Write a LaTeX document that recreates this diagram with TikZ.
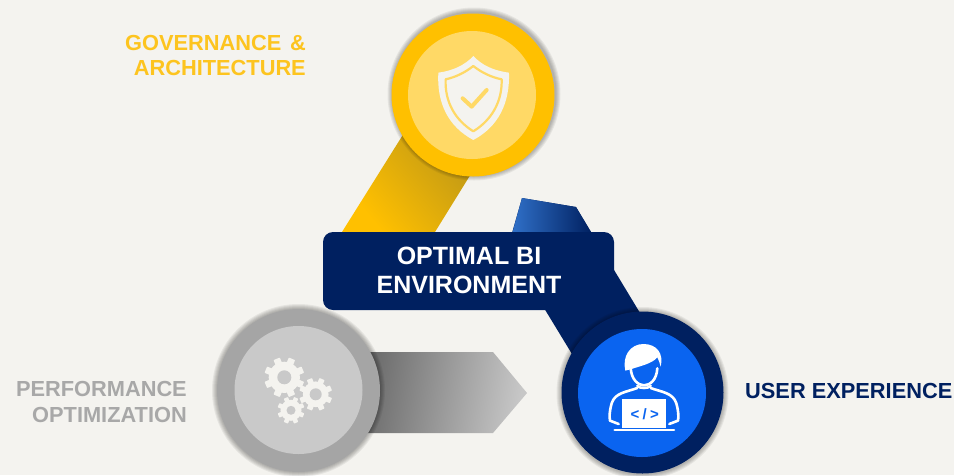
\documentclass[tikz,border=0pt]{standalone}
\usepackage{fontspec}
\setmainfont{Liberation Sans}
\definecolor{bgc}{HTML}{F4F3EF}
\definecolor{navy}{HTML}{002060}
\definecolor{gold}{HTML}{FFC000}
\definecolor{goldtext}{HTML}{FDC41F}
\definecolor{goldlight}{HTML}{FFD966}
\definecolor{golddark}{HTML}{A98A1E}
\definecolor{graylabel}{HTML}{A8A8A8}
\definecolor{grayring}{HTML}{A5A5A5}
\definecolor{grayinner}{HTML}{C9C9C9}
\definecolor{brightblue}{HTML}{0A64F0}
\definecolor{bandblue}{HTML}{3070C8}
\tikzset{
  sidelabel/.style={font=\bfseries\fontsize{21.8}{25.5}\selectfont, inner sep=0pt},
  centrelabel/.style={font=\bfseries\fontsize{25}{29}\selectfont, text=white, align=center, inner sep=0pt},
  gearfill/.style={fill=bgc},
  gearhole/.style={fill=grayinner},
  iconline/.style={draw=white, line width=2.6pt, line cap=round, line join=round}
}
\newcommand\softshadow[3]{%
  \foreach \d in {1,...,5}{\fill[black, opacity=0.06] (#1,#2) circle ({#3+6-\d});}%
}
\newcommand\gearicon[4]{%
  \begin{scope}[shift={(#1,#2)}]
    \fill[gearfill] (0,0) circle ({#3*0.78});
    \foreach \a in {0,45,...,315}{
      \fill[gearfill, rotate=\a+22.5, rounded corners=0.6pt] ({-0.17*#3},0) rectangle ({0.17*#3},{#3});
    }
    \fill[gearhole] (0,0) circle (#4);
  \end{scope}%
}
\begin{document}
\begin{tikzpicture}[x=1pt, y=-1pt]
\useasboundingbox (0,0) rectangle (954,475);
\fill[bgc] (0,0) rectangle (954,475);

% yellow band
\shade[top color=golddark, bottom color=gold, shading angle=-50]
  (342,232) -- (431,90) -- (500,127) -- (435,232) -- cycle;
% blue band
\fill[navy] (522,198) -- (576,207) -- (660,346) -- (600,400) -- (530,285) -- (510,240) -- cycle;
\shade[left color=bandblue, right color=navy]
  (522,198) -- (576,207) -- (592,234) -- (512,234) -- cycle;
% grey arrow
\shade[left color=black!58, right color=black!22, shading angle=80]
  (360,352) -- (493,352) -- (527,393) -- (493,433) -- (360,433) -- cycle;

% yellow disc
\softshadow{474}{94}{81.5}
\fill[gold] (473,95) circle (81.5);
\fill[goldlight] (472,95) circle (64);
% shield
\begin{scope}[shift={(370,0)}, x=0.3333pt, y=-0.3333pt]
  \fill[bgc, line join=round] (310,168) .. controls (335,195) and (370,212) .. (417,218)
     .. controls (420,310) and (385,380) .. (310,420)
     .. controls (235,380) and (200,310) .. (205,218)
     .. controls (250,212) and (285,195) .. (310,168) -- cycle;
  \draw[goldlight, line width=2.2pt, line join=round] (310,198) .. controls (335,218) and (365,232) .. (395,238)
     .. controls (397,305) and (365,360) .. (310,394)
     .. controls (255,360) and (224,305) .. (227,238)
     .. controls (255,232) and (285,218) .. (310,198) -- cycle;
  \draw[goldlight, line width=4pt, line cap=round, line join=round] (278,295) -- (305,320) -- (350,270);
\end{scope}

% grey disc
\softshadow{298.5}{390.5}{81.5}
\fill[grayring] (298.5,390.5) circle (81.5);
\fill[grayinner] (298.5,390) circle (64);
\gearicon{284.3}{377.3}{20}{7}
\gearicon{315.7}{394.3}{16.5}{6}
\gearicon{291}{410.3}{13.5}{4.5}

% blue disc
\softshadow{642.5}{393}{81}
\fill[navy] (642.5,392.5) circle (81);
\fill[brightblue] (642,393) circle (64);
% user icon
\begin{scope}[shift={(540,300)}, x=0.3333pt, y=-0.3333pt]
  \fill[white] (256,212) .. controls (246,170) and (270,132) .. (310,132)
     .. controls (350,132) and (372,160) .. (362,200)
     .. controls (360,190) and (356,180) .. (352,172)
     .. controls (335,192) and (300,198) .. (275,207) -- cycle;
  \draw[iconline] (272,205) .. controls (275,240) and (295,256) .. (312,256)
     .. controls (330,256) and (350,240) .. (352,205);
  \draw[iconline] (292,258) .. controls (300,266) and (324,266) .. (332,258);
  \draw[iconline] (292,264) .. controls (260,276) and (225,278) .. (215,310)
     .. controls (208,335) and (208,350) .. (210,362) -- (236,372);
  \draw[iconline] (332,264) .. controls (364,276) and (399,278) .. (409,310)
     .. controls (416,335) and (416,350) .. (414,362) -- (388,372);
  \fill[white] (247,298) rectangle (378,383);
  \draw[iconline] (224,390) -- (402,390);
  \node[font=\bfseries\fontsize{15}{15}\selectfont\addfontfeature{LetterSpace=22}, text=brightblue, inner sep=0pt] (codemark) at (314,343) {</>};
\end{scope}

% centre box
\fill[navy, rounded corners=10pt] (323,232) rectangle (614,310);
\node[centrelabel] (centre) at (469,270.5) {OPTIMAL BI\\[0pt]ENVIRONMENT};

% labels
\node[sidelabel, text=goldtext, align=right, anchor=base east] (gov) at (306,75.5) {GOVERNANCE\hspace{0.4em}\&\\ARCHITECTURE};
\node[sidelabel, text=graylabel, align=right, anchor=base east] (perf) at (187,422) {PERFORMANCE\\OPTIMIZATION};
\node[sidelabel, text=navy, anchor=base west] (user) at (745,398) {USER EXPERIENCE};
\end{tikzpicture}
\end{document}
